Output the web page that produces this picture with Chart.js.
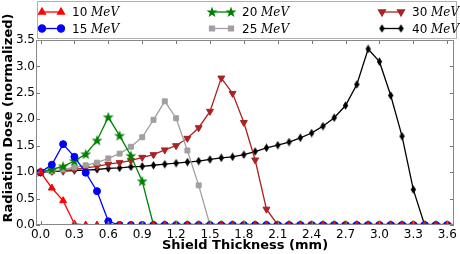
<!DOCTYPE html>
<html>
<head>
<meta charset="utf-8">
<script src="https://cdn.jsdelivr.net/npm/chart.js@4.4.1/dist/chart.umd.min.js"></script>
<style>
  html, body { margin: 0; padding: 0; background: #fff; }
  #wrap { width: 460px; height: 254px; }
</style>
</head>
<body>
<div id="wrap"><canvas id="chart" width="460" height="254"></canvas></div>
<script>
// shield thickness (mm)
const thickness = [0.0, 0.1, 0.2, 0.3, 0.4, 0.5, 0.6, 0.7, 0.8, 0.9, 1.0, 1.1, 1.2, 1.3, 1.4, 1.5, 1.6, 1.7, 1.8, 1.9,
  2.0, 2.1, 2.2, 2.3, 2.4, 2.5, 2.6, 2.7, 2.8, 2.9, 3.0, 3.1, 3.2, 3.3, 3.4, 3.5, 3.6];

const dose10 = [1.00, 0.70, 0.46, 0.02, 0, 0, 0, 0, 0, 0, 0, 0, 0, 0, 0, 0, 0, 0, 0, 0,
  0, 0, 0, 0, 0, 0, 0, 0, 0, 0, 0, 0, 0, 0, 0, 0, 0];
const dose15 = [1.00, 1.14, 1.53, 1.29, 0.99, 0.64, 0.07, 0, 0, 0, 0, 0, 0, 0, 0, 0, 0, 0, 0, 0,
  0, 0, 0, 0, 0, 0, 0, 0, 0, 0, 0, 0, 0, 0, 0, 0, 0];
const dose20 = [1.00, 1.05, 1.11, 1.21, 1.34, 1.60, 2.04, 1.69, 1.31, 0.83, 0, 0, 0, 0, 0, 0, 0, 0, 0, 0,
  0, 0, 0, 0, 0, 0, 0, 0, 0, 0, 0, 0, 0, 0, 0, 0, 0];
const dose25 = [1.00, 1.02, 1.05, 1.09, 1.13, 1.18, 1.26, 1.35, 1.48, 1.66, 1.99, 2.34, 2.02, 1.41, 0.75, 0, 0, 0, 0, 0,
  0, 0, 0, 0, 0, 0, 0, 0, 0, 0, 0, 0, 0, 0, 0, 0, 0];
const dose30 = [1.00, 1.02, 1.03, 1.05, 1.08, 1.11, 1.15, 1.18, 1.22, 1.28, 1.33, 1.42, 1.50, 1.64, 1.84, 2.15, 2.78, 2.49, 1.94, 1.23,
  0.30, 0, 0, 0, 0, 0, 0, 0, 0, 0, 0, 0, 0, 0, 0, 0, 0];
const dose40 = [1.00, 1.01, 1.02, 1.03, 1.04, 1.05, 1.07, 1.08, 1.10, 1.11, 1.13, 1.15, 1.17, 1.19, 1.21, 1.24, 1.27, 1.29, 1.33, 1.39,
  1.46, 1.51, 1.57, 1.65, 1.74, 1.87, 2.03, 2.26, 2.66, 3.33, 3.09, 2.45, 1.68, 0.67, 0, 0, 0];

const energies = ["10", "15", "20", "25", "30", "40"];
const xTicks = [0.0, 0.3, 0.6, 0.9, 1.2, 1.5, 1.8, 2.1, 2.4, 2.7, 3.0, 3.3, 3.6];
const yTicks = [0.0, 0.5, 1.0, 1.5, 2.0, 2.5, 3.0, 3.5];

const FONT = "'DejaVu Sans', sans-serif";

// filled marker images for shapes chart.js does not have
function starMarker(color) {
  const c = document.createElement("canvas");
  c.width = 12; c.height = 12;
  const g = c.getContext("2d");
  g.fillStyle = color;
  g.beginPath();
  for (let i = 0; i < 10; i++) {
    const r = i % 2 === 0 ? 5.8 : 2.3;
    const a = -Math.PI / 2 + i * Math.PI / 5;
    const px = 6 + r * Math.cos(a), py = 6.4 + r * Math.sin(a);
    if (i === 0) g.moveTo(px, py); else g.lineTo(px, py);
  }
  g.closePath();
  g.fill();
  return c;
}
function thinDiamond(color) {
  const c = document.createElement("canvas");
  c.width = 7; c.height = 9;
  const g = c.getContext("2d");
  g.fillStyle = color;
  g.beginPath();
  g.moveTo(3.5, 0.3); g.lineTo(6.2, 4.5); g.lineTo(3.5, 8.7); g.lineTo(0.8, 4.5);
  g.closePath();
  g.fill();
  return c;
}

const colors = ["#ff0000", "#0000ff", "#008000", "#a0a0a0", "#aa2222", "#000000"];
const styles = [
  { pointStyle: "triangle", radius: 4, rotation: 0 },
  { pointStyle: "circle", radius: 3.5, rotation: 0 },
  { pointStyle: starMarker(colors[2]), radius: 5, rotation: 0 },
  { pointStyle: "rect", radius: 3.5, rotation: 0 },
  { pointStyle: "triangle", radius: 4, rotation: 180 },
  { pointStyle: thinDiamond(colors[5]), radius: 4, rotation: 0 },
];
const series = [dose10, dose15, dose20, dose25, dose30, dose40];

const datasets = series.map((d, i) => ({
  label: energies[i] + " MeV",
  data: thickness.map((x, j) => ({ x: x, y: d[j] })),
  borderColor: colors[i],
  backgroundColor: colors[i],
  borderWidth: 1.3,
  pointStyle: styles[i].pointStyle,
  pointRadius: styles[i].radius,
  pointRotation: styles[i].rotation,
  pointBorderWidth: 1,
  pointBackgroundColor: colors[i],
  pointBorderColor: colors[i],
  tension: 0,
  clip: 0,
}));

// frame, inward ticks, axis titles and the boxed legend
const decor = {
  id: "decor",
  afterDatasetsDraw(chart) {
    const ctx = chart.ctx;
    const a = chart.chartArea;
    const xs = chart.scales.x, ys = chart.scales.y;
    ctx.save();
    ctx.strokeStyle = "#777";
    ctx.lineWidth = 1;
    ctx.beginPath();
    xTicks.forEach((v) => {
      const px = Math.round(xs.getPixelForValue(v)) + 0.5;
      ctx.moveTo(px, a.bottom); ctx.lineTo(px, a.bottom - 4);
      ctx.moveTo(px, a.top); ctx.lineTo(px, a.top + 4);
    });
    yTicks.forEach((v) => {
      const py = Math.round(ys.getPixelForValue(v)) + 0.5;
      ctx.moveTo(a.left, py); ctx.lineTo(a.left + 4, py);
      ctx.moveTo(a.right, py); ctx.lineTo(a.right - 4, py);
    });
    ctx.stroke();
    ctx.strokeStyle = "#888";
    ctx.strokeRect(Math.round(a.left) + 0.5, Math.round(a.top) + 0.5,
      Math.round(a.right - a.left) - 1, Math.round(a.bottom - a.top) - 1);

    // axis titles
    ctx.fillStyle = "#000";
    ctx.font = "bold 13px " + FONT;
    ctx.textAlign = "center";
    ctx.textBaseline = "middle";
    ctx.fillText("Shield Thickness (mm)", (a.left + a.right) / 2, 246);
    ctx.save();
    ctx.translate(9, 118);
    ctx.rotate(-Math.PI / 2);
    ctx.fillText("Radiation Dose (normalized)", 0, 0);
    ctx.restore();

    // legend box
    ctx.fillStyle = "#fff";
    ctx.fillRect(37, 1, 420, 38);
    ctx.strokeStyle = "#b0b0b0";
    ctx.strokeRect(37.5, 1.5, 419, 37);
    const order = [0, 2, 4, 1, 3, 5];
    order.forEach((di, k) => {
      const col = k % 3, row = Math.floor(k / 3);
      const x0 = 42 + col * 170, y0 = 12 + row * 16.5;
      const ds = chart.data.datasets[di];
      ctx.strokeStyle = ds.borderColor;
      ctx.fillStyle = ds.borderColor;
      ctx.lineWidth = 1.3;
      ctx.beginPath();
      ctx.moveTo(x0, y0); ctx.lineTo(x0 + 19, y0);
      ctx.stroke();
      const opts = { pointStyle: ds.pointStyle, radius: ds.pointRadius, rotation: ds.pointRotation, borderWidth: 1 };
      Chart.helpers.drawPoint(ctx, opts, x0, y0);
      Chart.helpers.drawPoint(ctx, opts, x0 + 19, y0);
      ctx.fillStyle = "#000";
      ctx.textAlign = "left";
      ctx.textBaseline = "middle";
      ctx.font = "12px " + FONT;
      const num = energies[di] + " ";
      ctx.fillText(num, x0 + 30, y0 + 1);
      const w = ctx.measureText(num).width;
      ctx.font = "italic 12px 'DejaVu Serif', 'Liberation Serif', serif";
      ctx.fillText("MeV", x0 + 30 + w, y0 + 1);
    });
    ctx.restore();
  },
};

new Chart(document.getElementById("chart"), {
  type: "line",
  data: { datasets: datasets },
  options: {
    responsive: false,
    animation: false,
    devicePixelRatio: 1,
    layout: { padding: { top: 40, right: 3, left: 0, bottom: 0 } },
    plugins: { legend: { display: false }, tooltip: { enabled: false } },
    scales: {
      x: {
        type: "linear",
        min: -0.04,
        max: 3.66,
        afterFit: (s) => { s.height = 29; },
        afterBuildTicks: (s) => { s.ticks = xTicks.map((v) => ({ value: v })); },
        grid: { display: false, drawTicks: false },
        border: { display: false },
        ticks: {
          padding: 3,
          color: "#000",
          font: { family: FONT, size: 12 },
          callback: (v) => v.toFixed(1),
        },
      },
      y: {
        min: 0,
        max: 3.5,
        afterFit: (s) => { s.width = 36; },
        afterBuildTicks: (s) => { s.ticks = yTicks.map((v) => ({ value: v })); },
        grid: { display: false, drawTicks: false },
        border: { display: false },
        ticks: {
          padding: 1,
          color: "#000",
          font: { family: FONT, size: 12 },
          callback: (v) => v.toFixed(1),
        },
      },
    },
  },
  plugins: [decor],
});
</script>
</body>
</html>
